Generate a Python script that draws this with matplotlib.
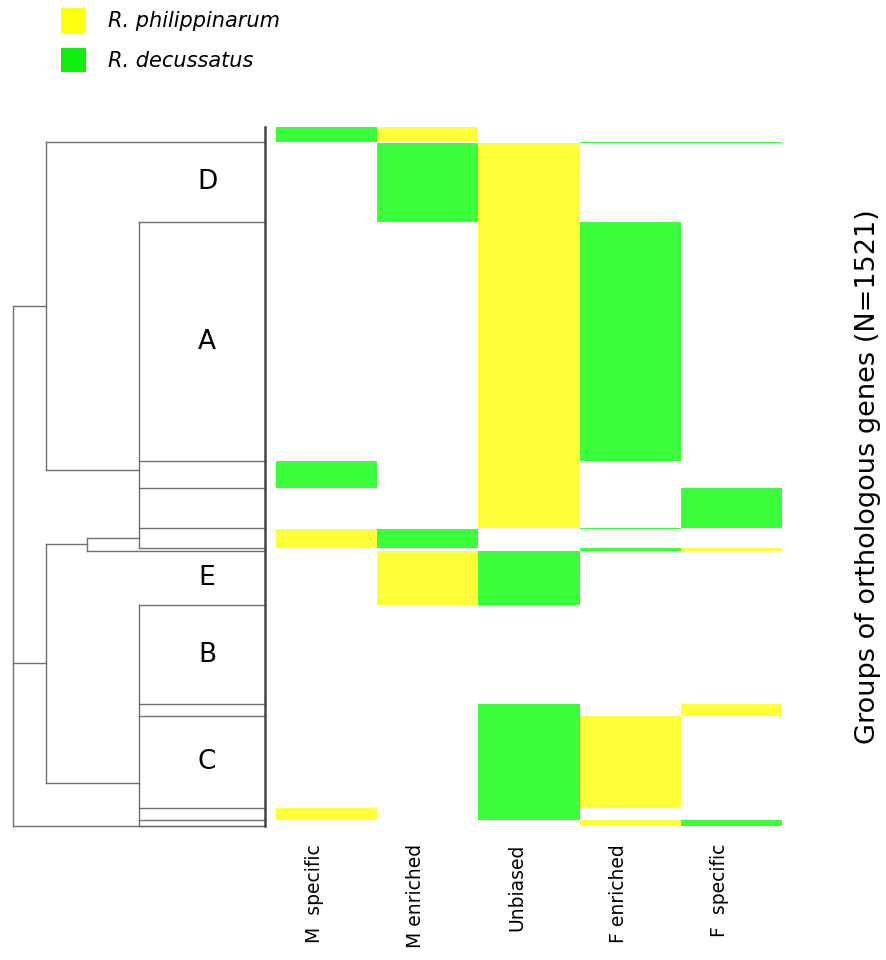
import numpy as np
import matplotlib
matplotlib.use("Agg")
import matplotlib.pyplot as plt
from matplotlib.patches import Patch

# bias classes (heatmap columns)
columns = ["M  specific", "M enriched", "Unbiased", "F enriched", "F  specific"]

# gene groups, top to bottom: number of orthologous genes in each group
row_sizes = [33, 1, 173, 520, 59, 87, 1, 42, 7, 117, 216, 26, 200, 26, 12, 1]
# species showing the bias in each column: Y = R. philippinarum, G = R. decussatus
row_codes = ["GY...", "...GG", ".GY..", "..YG.", "G.Y..", "..Y.G", "...G.", "YG...",
             "...GY", ".YG..", ".....", "..G.Y", "..GY.", "Y.G..", "...YG", "GG..."]

# cluster names and the group they label
cluster_names = ["D", "A", "E", "B", "C"]
cluster_rows = [2, 3, 9, 10, 12]

# dendrogram nodes: (height, [(gene position, child height), ...])
dendro_nodes = [
    (1.0, [(207, 0), (727, 0), (786, 0), (873, 0), (916, 0)]),
    (1.0, [(1040, 0), (1256, 0), (1282, 0), (1482, 0), (1508, 0), (1521, 0)]),
    (1.41, [(894, 1.0), (923, 0)]),
    (1.74, [(33, 0), (746, 1.0)]),
    (1.74, [(907, 1.41), (1427, 1.0)]),
    (2.0, [(390, 1.74), (1167, 1.74), (1521, 0)]),
]

species = ["R. philippinarum", "R. decussatus"]
heat_colors = {"Y": "#FFFF38", "G": "#3CFF3C"}
legend_colors = ["#FFFF10", "#10F010"]

n_genes = sum(row_sizes)
starts = np.concatenate([[0], np.cumsum(row_sizes)[:-1]])

W, H = 886, 960
fig = plt.figure(figsize=(W / 100, H / 100), dpi=100)

top_px, bot_px = 127, 826
ax_d = fig.add_axes([13 / W, 1 - bot_px / H, 252 / W, (bot_px - top_px) / H])
ax_h = fig.add_axes([276 / W, 1 - bot_px / H, 506 / W, (bot_px - top_px) / H])

# heatmap
for start, size, code in zip(starts, row_sizes, row_codes):
    for j, c in enumerate(code):
        if c in heat_colors:
            ax_h.barh(start, 1, left=j, height=size, align="edge",
                      color=heat_colors[c], linewidth=0)
ax_h.set_xlim(0, len(columns))
ax_h.set_ylim(n_genes, 0)
ax_h.set_xticks(np.arange(len(columns)) + 0.38)
ax_h.set_xticklabels(columns, rotation=90, fontsize=13.5)
ax_h.tick_params(axis="x", length=0, pad=13)
ax_h.set_yticks([])
for s in ax_h.spines.values():
    s.set_visible(False)

fig.text(868 / W, 1 - 477 / H, "Groups of orthologous genes (N=1521)",
         rotation=90, fontsize=19.5, ha="center", va="center")

# dendrogram
lc = "#707070"
for h, children in dendro_nodes:
    ys = [y for y, _ in children]
    ax_d.plot([h, h], [min(ys), max(ys)], color=lc, lw=1.0, clip_on=False)
    for y, hc in children:
        ax_d.plot([hc, h], [y, y], color=lc, lw=1.0, clip_on=False)
ax_d.plot([0, 0], [0, n_genes], color="#444444", lw=1.8, clip_on=False)

for name, r in zip(cluster_names, cluster_rows):
    ax_d.text(0.46, starts[r] + row_sizes[r] / 2, name, fontsize=19,
              ha="center", va="center")

ax_d.set_xlim(2.0, 0)
ax_d.set_ylim(n_genes, 0)
ax_d.axis("off")

# species legend
handles = [Patch(facecolor=c, edgecolor="none") for c in legend_colors]
leg = fig.legend(handles, species, loc="upper left",
                 bbox_to_anchor=(61 / W, 1 - 8 / H), frameon=False,
                 fontsize=15, handlelength=1.2, handleheight=1.45,
                 handletextpad=1.05, labelspacing=0.72, borderpad=0,
                 borderaxespad=0)
for t in leg.get_texts():
    t.set_fontstyle("italic")

fig.savefig("out.png", dpi=100)
